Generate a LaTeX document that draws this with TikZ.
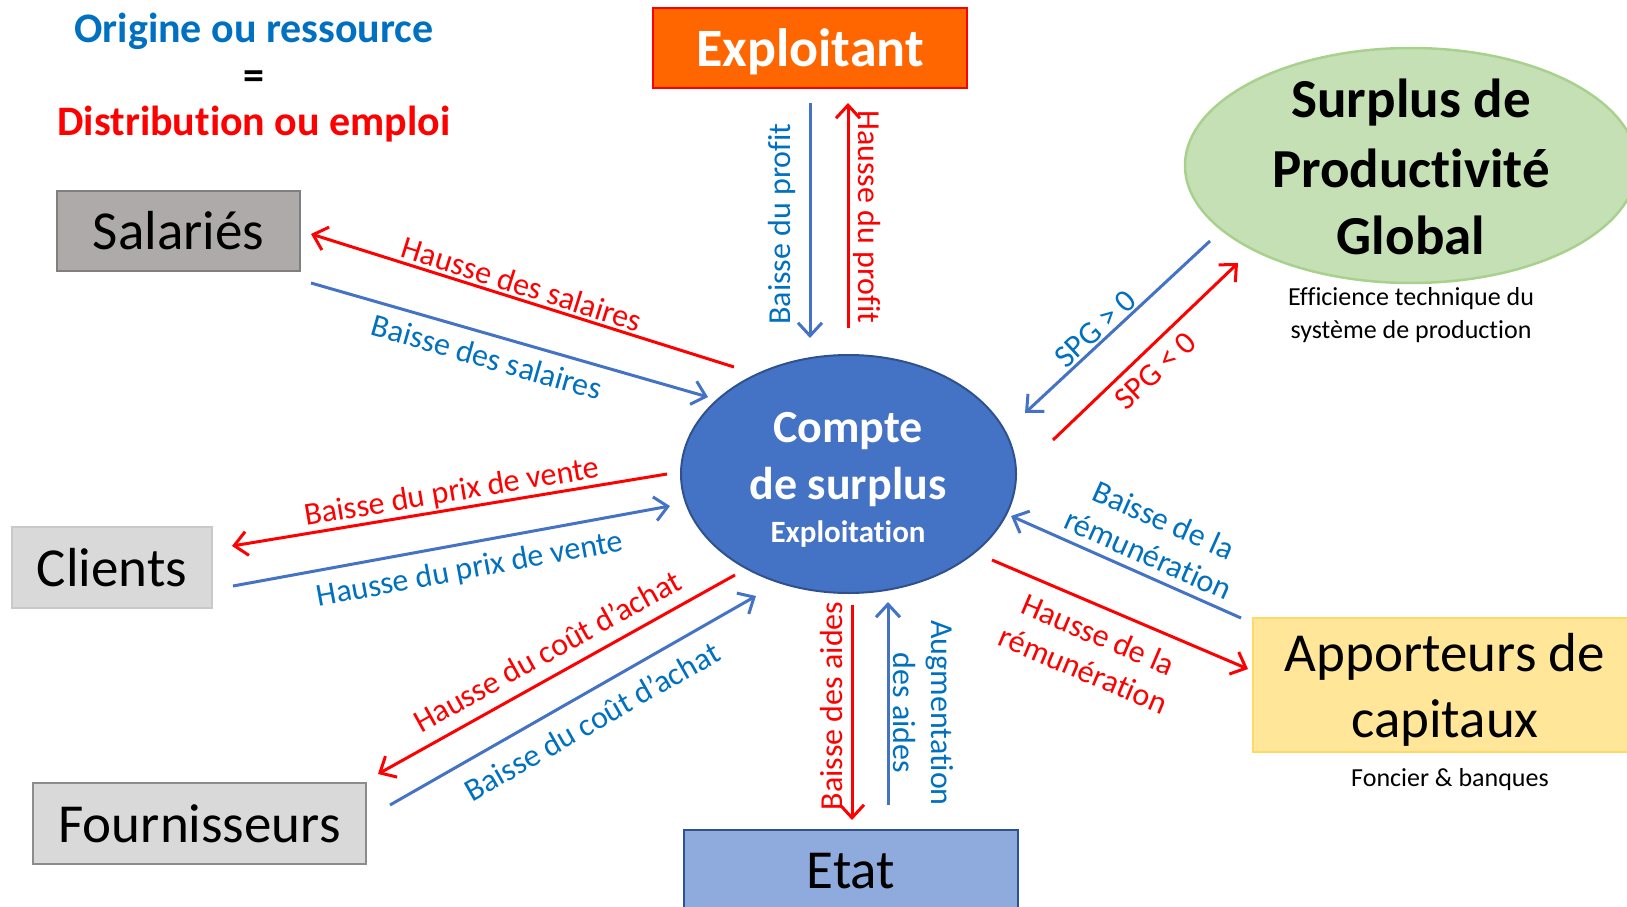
\documentclass[tikz,border=0pt]{standalone}
\usepackage{fontspec}
\setmainfont{Carlito}[Ligatures={NoCommon}]
\usetikzlibrary{shapes.geometric,arrows.meta}
\definecolor{cred}{HTML}{FF0000}
\definecolor{cblue}{HTML}{4472C4}
\definecolor{tblue}{HTML}{0070C0}
\definecolor{corange}{HTML}{FF6600}
\definecolor{csal}{HTML}{AEAAAA}
\definecolor{csalb}{HTML}{7F7F7F}
\definecolor{clight}{HTML}{D9D9D9}
\definecolor{clightb}{HTML}{C9C9C9}
\definecolor{cfourb}{HTML}{8C8C8C}
\definecolor{cgreen}{HTML}{C5E0B4}
\definecolor{cgreenb}{HTML}{A9D18E}
\definecolor{cyellow}{HTML}{FFE699}
\definecolor{cyellowb}{HTML}{FFD966}
\definecolor{cetat}{HTML}{8FAADC}
\definecolor{cdark}{HTML}{2F528F}
\tikzset{
  box/.style={draw, line width=2.5pt, inner sep=0pt, font=\fontsize{55}{66}\selectfont, align=center},
  lbl/.style={font=\fontsize{32}{38}\selectfont, inner sep=0pt, align=center},
  rlbl/.style={lbl, text=cred},
  blbl/.style={lbl, text=tblue},
  arr/.style={line width=3pt, -{Straight Barb[length=13pt,width=24pt,line width=3pt]}},
  rarr/.style={arr, draw=cred},
  barr/.style={arr, draw=cblue},
  bigbold/.style={font=\fontsize{55}{66}\selectfont\bfseries, inner sep=0pt},
  small/.style={font=\fontsize{26}{33}\selectfont, inner sep=0pt, align=center},
  ttl/.style={font=\fontsize{42}{50}\selectfont\bfseries, inner sep=0pt},
  wtxt/.style={font=\fontsize{46}{56}\selectfont\bfseries, text=white, inner sep=0pt}
}
\begin{document}
\begin{tikzpicture}[x=1pt,y=-1pt]
\useasboundingbox (0,0) rectangle (1627,907);
\clip (0,0) rectangle (1627,907);
% title
\node[ttl, text=tblue] (t1) at (254,31) {Origine ou ressource};
\node[ttl] (t2) at (254,80) {=};
\node[ttl, text=cred] (t3) at (254,124) {Distribution ou emploi};
% boxes
\node[box, fill=corange, draw=cred, text=white, font=\fontsize{54}{64}\selectfont\bfseries, text depth=0pt, minimum width=314pt, minimum height=80pt] (expl) at (810,48) {Exploitant};
\node[box, fill=csal, draw=csalb, minimum width=243pt, minimum height=80pt] (sal) at (178.5,231) {Salariés};
\node[box, fill=clight, draw=clightb, minimum width=200pt, minimum height=81pt] (cli) at (112,567.5) {Clients};
\node[box, fill=clight, draw=cfourb, minimum width=333pt, minimum height=81pt] (four) at (199.5,823.5) {Fournisseurs};
\node[box, fill=cetat, draw=cdark, minimum width=334pt, minimum height=82pt] (etat) at (851,871) {\raisebox{-2pt}{Etat}};
\node[box, fill=cyellow, draw=cyellowb, text depth=0pt, minimum width=384pt, minimum height=134pt] (app) at (1445,685) {Apporteurs de\\capitaux};
\node[small] (fonc) at (1450,780) {Foncier \& banques};
% ellipses
\node[ellipse, draw=cgreenb, line width=2.5pt, fill=cgreen, minimum width=452pt, minimum height=235pt, inner sep=0pt] (spg) at (1411,165.5) {};
\node[bigbold] (spg1) at (1411,103) {Surplus de};
\node[bigbold] (spg2) at (1411,168) {Productivité};
\node[bigbold] (spg3) at (1411,235) {Global};
\node[small] (eff) at (1411,315) {Efficience technique du\\système de production};
\node[ellipse, draw=cdark, line width=2pt, fill=cblue, minimum width=335pt, minimum height=238pt, inner sep=0pt] (cs) at (848.5,474) {};
\node[wtxt] (cs1) at (848,431) {Compte};
\node[wtxt] (cs2) at (848,487) {de surplus};
\node[wtxt, font=\fontsize{31}{38}\selectfont\bfseries] (cs3) at (848,534) {Exploitation};
% arrow end points
\coordinate (a1s) at (734,367); \coordinate (a1e) at (311,234);
\coordinate (a2s) at (311,283); \coordinate (a2e) at (708,397);
\coordinate (a3s) at (667,474); \coordinate (a3e) at (232,546);
\coordinate (a4s) at (233,586); \coordinate (a4e) at (670,506);
\coordinate (a5s) at (735,575); \coordinate (a5e) at (378,774);
\coordinate (a6s) at (390,805); \coordinate (a6e) at (756,596);
\coordinate (a7s) at (810,103); \coordinate (a7e) at (810,338);
\coordinate (a8s) at (848,328); \coordinate (a8e) at (848,103);
\coordinate (a9s) at (1210,241); \coordinate (a9e) at (1025,413);
\coordinate (a10s) at (1053,440); \coordinate (a10e) at (1238,263);
\coordinate (a11s) at (1241,618); \coordinate (a11e) at (1011,516);
\coordinate (a12s) at (992,560); \coordinate (a12e) at (1248,669);
\coordinate (a13s) at (852,605); \coordinate (a13e) at (852,820);
\coordinate (a14s) at (888,805); \coordinate (a14e) at (888,602);
% arrows
\draw[rarr] (a1s) -- (a1e);
\draw[barr] (a2s) -- (a2e);
\draw[rarr] (a3s) -- (a3e);
\draw[barr] (a4s) -- (a4e);
\draw[rarr] (a5s) -- (a5e);
\draw[barr] (a6s) -- (a6e);
\draw[barr] (a7s) -- (a7e);
\draw[rarr] (a8s) -- (a8e);
\draw[barr] (a9s) -- (a9e);
\draw[rarr] (a10s) -- (a10e);
\draw[barr] (a11s) -- (a11e);
\draw[rarr] (a12s) -- (a12e);
\draw[rarr] (a13s) -- (a13e);
\draw[barr] (a14s) -- (a14e);
% labels
\node[rlbl, rotate=-17.5] (l1) at (522,284) {Hausse des salaires};
\node[blbl, rotate=-16] (l2) at (487,357) {Baisse des salaires};
\node[rlbl, rotate=9.4] (l3) at (452,493) {Baisse du prix de vente};
\node[blbl, rotate=10.4] (l4) at (470,570) {Hausse du prix de vente};
\node[rlbl, rotate=29] (l5) at (547,651) {Hausse du coût d’achat};
\node[blbl, rotate=29.7] (l6) at (592,721) {Baisse du coût d’achat};
\node[blbl, rotate=90] (l7) at (782,224) {Baisse du profit};
\node[rlbl, rotate=-90] (l8) at (867,217) {Hausse du profit};
\node[blbl, rotate=43] (l9) at (1095,329) {SPG > 0};
\node[rlbl, rotate=43] (l10) at (1155,371) {SPG < 0};
\node[blbl, rotate=-24] (l11) at (1156,537) {Baisse de la\\rémunération};
\node[rlbl, rotate=-23] (l12) at (1091,652) {Hausse de la\\rémunération};
\node[rlbl, rotate=90] (l13) at (831,706) {Baisse des aides};
\node[blbl, rotate=-90] (l14) at (923,713) {Augmentation\\des aides};
\end{tikzpicture}
\end{document}
